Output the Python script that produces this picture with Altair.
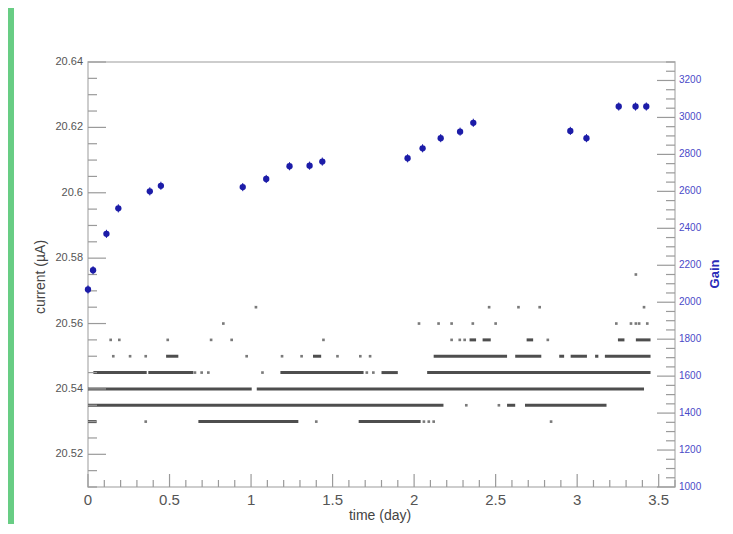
import pandas as pd
import altair as alt

# plot geometry (plot area only, autosize none + explicit padding)
W, H = 587, 425
PAD = {"left": 80, "top": 54, "right": 50, "bottom": 37}

GREEN = "#68cd84"
BLUE = "#1c1ca8"
FONT = "Liberation Sans"

# --- blue points: gain vs time ---
GAIN_TIME = [0.0, 0.031, 0.113, 0.186, 0.379, 0.447, 0.949, 1.093, 1.236, 1.359, 1.437,
             1.960, 2.052, 2.163, 2.282, 2.363, 2.958, 3.057, 3.255, 3.358, 3.424]
GAIN = [2069, 2173, 2370, 2508, 2600, 2630, 2623, 2667, 2736, 2739, 2761,
        2779, 2833, 2888, 2923, 2971, 2927, 2888, 3059, 3059, 3059]

# --- gray current readings: dense runs (start, end) and single dots per level ---
RUNS_20530 = [(0.0, 0.053), (0.677, 1.29), (1.66, 2.04)]
DOTS_20530 = [0.354, 1.40, 2.06, 2.09, 2.12, 2.84]
RUNS_20535 = [(0.0, 2.18), (2.57, 2.62), (2.68, 3.18)]
DOTS_20535 = [2.32, 2.52]
RUNS_20540 = [(0.0, 1.004), (1.035, 3.41)]
DOTS_20540 = []
RUNS_20545 = [(0.033, 0.36), (0.37, 0.646), (1.18, 1.69), (1.80, 1.90), (2.08, 3.45)]
DOTS_20545 = [0.656, 0.697, 0.738, 1.07, 1.71, 1.75]
RUNS_20550 = [(0.479, 0.554), (1.38, 1.43), (2.12, 2.57), (2.62, 2.78), (2.89, 2.92),
              (2.96, 3.06), (3.11, 3.13), (3.17, 3.45)]
DOTS_20550 = [0.155, 0.258, 0.354, 0.973, 1.19, 1.31, 1.53, 1.67, 1.73]
RUNS_20555 = [(2.34, 2.38), (2.42, 2.47), (2.69, 2.73), (3.25, 3.29), (3.36, 3.45)]
DOTS_20555 = [0.139, 0.192, 0.489, 0.755, 0.881, 1.444, 2.23, 2.28, 2.31, 2.82]
DOTS_20560 = [0.83, 2.03, 2.15, 2.23, 2.36, 2.50, 3.24, 3.33, 3.36, 3.38, 3.43]
DOTS_20565 = [1.03, 2.46, 2.64, 2.77, 3.41]
DOTS_20575 = [3.36]

# --- axis ticks / labels ---
X_MAJOR = [0, 0.5, 1, 1.5, 2, 2.5, 3, 3.5]
X_MINOR = [round(0.1 * i, 1) for i in range(37) if round(0.1 * i, 1) not in X_MAJOR]
LEFT_MAJOR = [20.52, 20.54, 20.56, 20.58, 20.60, 20.62, 20.64]
LEFT_MINOR = [round(20.51 + 0.005 * i, 3) for i in range(27)
              if round(20.51 + 0.005 * i, 3) not in LEFT_MAJOR]
RIGHT_MAJOR = [1000, 1200, 1400, 1600, 1800, 2000, 2200, 2400, 2600, 2800, 3000, 3200]
RIGHT_MINOR = [1000 + 50 * i for i in range(47) if (1000 + 50 * i) not in RIGHT_MAJOR]

runs_by_level = {20.530: RUNS_20530, 20.535: RUNS_20535, 20.540: RUNS_20540,
                 20.545: RUNS_20545, 20.550: RUNS_20550, 20.555: RUNS_20555}
dots_by_level = {20.530: DOTS_20530, 20.535: DOTS_20535, 20.540: DOTS_20540,
                 20.545: DOTS_20545, 20.550: DOTS_20550, 20.555: DOTS_20555,
                 20.560: DOTS_20560, 20.565: DOTS_20565, 20.575: DOTS_20575}

df_runs = pd.DataFrame([{"level": lv, "t0": a, "t1": b}
                        for lv, rr in runs_by_level.items() for a, b in rr])
df_dots = pd.DataFrame([{"level": lv, "t": t}
                        for lv, tt in dots_by_level.items() for t in tt])
df_gain = pd.DataFrame({"t": GAIN_TIME, "gain": GAIN})
df_gain["lo"] = df_gain["gain"] - 22
df_gain["hi"] = df_gain["gain"] + 22

x_scale = alt.Scale(domain=[0, 3.6], nice=False, zero=False)
cur_scale = alt.Scale(domain=[20.51, 20.64], nice=False, zero=False)
gain_scale = alt.Scale(domain=[1000, 3300], nice=False, zero=False)

TICK_COLOR = "#9a9a9a"
one_row = pd.DataFrame({"a": [0]})


def x_enc(field):
    return alt.X(field, scale=x_scale, axis=None)


def cur_enc(field):
    return alt.Y(field, scale=cur_scale, axis=None)


def gain_enc(field):
    return alt.Y(field, scale=gain_scale, axis=None)


# ---------------- current (left scale) ----------------
runs = alt.Chart(df_runs).mark_rule(color="#4e4e4e", strokeWidth=3).encode(
    x=x_enc("t0:Q"), x2="t1:Q", y=cur_enc("level:Q"))

dots = alt.Chart(df_dots).mark_square(color="#7a7a7a", size=7, opacity=1).encode(
    x=x_enc("t:Q"), y=cur_enc("level:Q"))

left_major = alt.Chart(pd.DataFrame({"v": LEFT_MAJOR})).mark_rule(
    color=TICK_COLOR, strokeWidth=1.2).encode(
    y=cur_enc("v:Q"), x=alt.value(0), x2=alt.value(18))
left_minor = alt.Chart(pd.DataFrame({"v": LEFT_MINOR})).mark_rule(
    color=TICK_COLOR, strokeWidth=1.2).encode(
    y=cur_enc("v:Q"), x=alt.value(0), x2=alt.value(9))
left_labels = alt.Chart(pd.DataFrame({"v": LEFT_MAJOR})).mark_text(
    align="right", baseline="middle", dx=-5, fontSize=11, color="#555").encode(
    y=cur_enc("v:Q"), x=alt.value(0), text=alt.Text("v:Q", format=".2~f"))

bottom_major = alt.Chart(pd.DataFrame({"v": X_MAJOR})).mark_rule(
    color=TICK_COLOR, strokeWidth=1.2).encode(
    x=x_enc("v:Q"), y=alt.value(H), y2=alt.value(H - 13))
bottom_minor = alt.Chart(pd.DataFrame({"v": X_MINOR})).mark_rule(
    color=TICK_COLOR, strokeWidth=1.2).encode(
    x=x_enc("v:Q"), y=alt.value(H), y2=alt.value(H - 7))
bottom_labels = alt.Chart(pd.DataFrame({"v": X_MAJOR})).mark_text(
    align="center", baseline="top", dy=6, fontSize=15, color="#555").encode(
    x=x_enc("v:Q"), y=alt.value(H), text=alt.Text("v:Q", format=".1~f"))

left_title = alt.Chart(one_row).mark_text(
    text="current (µA)", angle=270, align="center", baseline="middle",
    fontSize=14, color="#444").encode(x=alt.value(-47), y=alt.value(215))
bottom_title = alt.Chart(one_row).mark_text(
    text="time (day)", align="center", baseline="middle",
    fontSize=14, color="#444").encode(x=alt.value(292), y=alt.value(H + 29))

strip = alt.Chart(one_row).mark_rect(color=GREEN).encode(
    x=alt.value(-PAD["left"]), x2=alt.value(-PAD["left"] + 6),
    y=alt.value(-PAD["top"]), y2=alt.value(H + PAD["bottom"]))

left = alt.layer(strip, runs, dots, bottom_minor, bottom_major, left_minor, left_major,
                 left_labels, bottom_labels, left_title, bottom_title)

# ---------------- gain (right scale) ----------------
gain_err = alt.Chart(df_gain).mark_rule(color=BLUE, strokeWidth=1).encode(
    x=x_enc("t:Q"), y=gain_enc("lo:Q"), y2="hi:Q")
gain_pts = alt.Chart(df_gain).mark_circle(color=BLUE, size=40, opacity=1).encode(
    x=x_enc("t:Q"), y=gain_enc("gain:Q"))

right_major = alt.Chart(pd.DataFrame({"v": RIGHT_MAJOR})).mark_rule(
    color=TICK_COLOR, strokeWidth=1.2).encode(
    y=gain_enc("v:Q"), x=alt.value(W - 18), x2=alt.value(W))
right_minor = alt.Chart(pd.DataFrame({"v": RIGHT_MINOR})).mark_rule(
    color=TICK_COLOR, strokeWidth=1.2).encode(
    y=gain_enc("v:Q"), x=alt.value(W - 9), x2=alt.value(W))
right_labels = alt.Chart(pd.DataFrame({"v": RIGHT_MAJOR})).mark_text(
    align="left", baseline="middle", dx=4, fontSize=10, color="#4a4ac8").encode(
    y=gain_enc("v:Q"), x=alt.value(W), text=alt.Text("v:Q", format="d"))
right_title = alt.Chart(one_row).mark_text(
    text="Gain", angle=270, align="center", baseline="middle",
    fontSize=13, fontWeight="bold", color="#2a2ab8").encode(
    x=alt.value(W + 40), y=alt.value(212))

right = alt.layer(right_minor, right_major, gain_err, gain_pts, right_labels, right_title)

chart = alt.layer(left, right).resolve_scale(y="independent").properties(
    width=W,
    height=H,
    padding=PAD,
    autosize=alt.AutoSizeParams(type="none"),
    background="white",
).configure(font=FONT).configure_view(stroke="#bdbdbd", strokeWidth=1.5)

chart.save("out.html", embed_options={"renderer": "svg", "actions": False})
